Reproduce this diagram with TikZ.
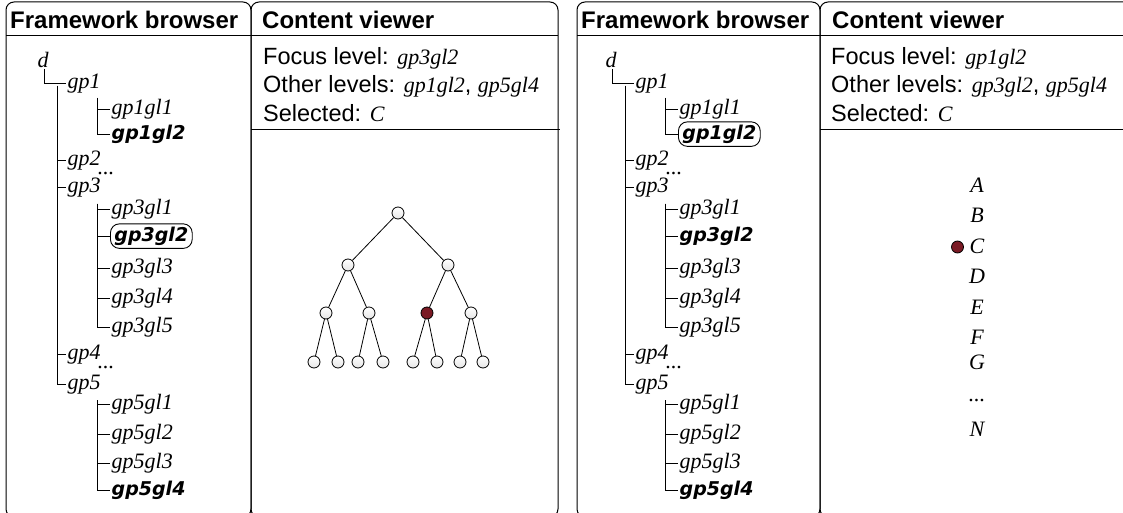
\documentclass[tikz,border=0pt]{standalone}
\usepackage{fontspec}
\setmainfont{Liberation Serif}
\setsansfont{Liberation Sans}
\newfontfamily\djv{DejaVu Sans}
\definecolor{selred}{RGB}{122,26,36}
\newcommand\vi[1]{{\rmfamily\itshape\fontsize{22bp}{26bp}\selectfont #1}}
\tikzset{
 frame/.style={draw, line width=1bp, rounded corners=8bp},
 sepline/.style={draw, line width=1bp},
 hdr/.style={anchor=base west, font=\sffamily\bfseries\fontsize{24bp}{28bp}\selectfont, inner sep=0},
 info/.style={anchor=base west, font=\sffamily\fontsize{23.5bp}{27bp}\selectfont, inner sep=0},
 it/.style={anchor=mid west, font=\itshape\fontsize{22bp}{26bp}\selectfont, inner xsep=1.5bp, inner ysep=2bp},
 bld/.style={anchor=mid west, font=\djv\bfseries\itshape\fontsize{19bp}{23bp}\selectfont, inner xsep=1.5bp, inner ysep=2bp},
 boxed/.style={draw, rounded corners=9bp, line width=0.9bp, inner xsep=4bp, inner ysep=3bp},
 branch/.style={line width=0.9bp},
 lbl/.style={anchor=base, font=\itshape\fontsize{22bp}{26bp}\selectfont, inner sep=0},
 tn/.style={circle, draw, line width=0.8bp, minimum size=12bp, inner sep=0, top color=white, bottom color=black!10},
 tsel/.style={circle, draw, line width=0.8bp, minimum size=12bp, inner sep=0, fill=selred},
 edge/.style={line width=0.8bp},
}
\newcommand\fwtree[3]{%
 \node[lbl] (#1d) at (43,68) {d};
 \node[it] (#1gp1) at (66,86) {gp1};
 \node[it] (#1gp2) at (66,163) {gp2};
 \node[lbl] (#1dots1) at (106,175) {...};
 \node[it] (#1gp3) at (66,190) {gp3};
 \node[it] (#1gp4) at (66,357) {gp4};
 \node[lbl] (#1dots2) at (106,369) {...};
 \node[it] (#1gp5) at (66,387) {gp5};
 \node[it] (#1a1) at (110,112) {gp1gl1};
 \node[#2] (#1a2) at (110,137) {gp1gl2};
 \node[it] (#1b1) at (110,212) {gp3gl1};
 \node[#3] (#1b2) at (110,239) {gp3gl2};
 \node[it] (#1b3) at (110,271) {gp3gl3};
 \node[it] (#1b4) at (110,301) {gp3gl4};
 \node[it] (#1b5) at (110,330) {gp3gl5};
 \node[it] (#1c1) at (110,407) {gp5gl1};
 \node[it] (#1c2) at (110,437) {gp5gl2};
 \node[it] (#1c3) at (110,466) {gp5gl3};
 \node[bld] (#1c4) at (110,493) {gp5gl4};
 \coordinate (#1v0) at (44,69);
 \coordinate (#1v1) at (57,86);
 \coordinate (#1va) at (97,98);
 \coordinate (#1vb) at (97,204);
 \coordinate (#1vc) at (97,400);
 \draw[branch] (#1v0) |- (#1gp1.west);
 \foreach \n in {gp2,gp3,gp4,gp5} {\draw[branch] (#1v1) |- (#1\n.west);}
 \foreach \n in {a1,a2} {\draw[branch] (#1va) |- (#1\n.west);}
 \foreach \n in {b1,b2,b3,b4,b5} {\draw[branch] (#1vb) |- (#1\n.west);}
 \foreach \n in {c1,c2,c3,c4} {\draw[branch] (#1vc) |- (#1\n.west);}
}
\begin{document}
\begin{tikzpicture}[x=1bp,y=-1bp]
\useasboundingbox (0,0) rectangle (1123,513);
\clip (0,0) rectangle (1123,513);
\fill[white] (0,0) rectangle (1123,513);
% frames
\path[frame] (6,2) rectangle (251,517);
\path[frame] (251,2) rectangle (558,517);
\path[frame] (577,2) rectangle (820,517);
\path[frame] (820,2) rectangle (1140,517);
\path[sepline] (6,36) -- (251,36);
\path[sepline] (251,36) -- (558,36);
\path[sepline] (251,130) -- (560,130);
\path[sepline] (577,36) -- (820,36);
\path[sepline] (820,36) -- (1123,36);
\path[sepline] (820,130) -- (1123,130);
% headers
\node[hdr] (h1) at (10,28.5) {Framework browser};
\node[hdr] (h2) at (262,28.5) {Content viewer};
\node[hdr] (h3) at (581,28.5) {Framework browser};
\node[hdr] (h4) at (832,28.5) {Content viewer};
% info left
\node[info] (i1) at (263,65) {Focus level: \vi{gp3gl2}};
\node[info] (i2) at (263,93) {Other levels: \vi{gp1gl2}, \vi{gp5gl4}};
\node[info] (i3) at (263,122) {Selected: \vi{C}};
% info right
\node[info] (j1) at (831,65) {Focus level: \vi{gp1gl2}};
\node[info] (j2) at (831,93) {Other levels: \vi{gp3gl2}, \vi{gp5gl4}};
\node[info] (j3) at (831,122) {Selected: \vi{C}};
% framework trees
\fwtree{L}{bld}{bld,boxed}
\begin{scope}[xshift=568bp]
\fwtree{R}{bld,boxed}{bld}
\end{scope}
% binary tree in left content viewer
\node[tn] (t1) at (398,213) {};
\node[tn] (t2) at (348,265) {};
\node[tn] (t3) at (448,265) {};
\node[tn] (t4) at (326,313) {};
\node[tn] (t5) at (369,313) {};
\node[tsel] (t6) at (427,313) {};
\node[tn] (t7) at (471,313) {};
\node[tn] (t8) at (314,362) {};
\node[tn] (t9) at (338,362) {};
\node[tn] (t10) at (358,362) {};
\node[tn] (t11) at (383,362) {};
\node[tn] (t12) at (413,362) {};
\node[tn] (t13) at (437,362) {};
\node[tn] (t14) at (460,362) {};
\node[tn] (t15) at (483,362) {};
\draw[edge] (t1) -- (t2); \draw[edge] (t1) -- (t3);
\draw[edge] (t2) -- (t4); \draw[edge] (t2) -- (t5);
\draw[edge] (t3) -- (t6); \draw[edge] (t3) -- (t7);
\draw[edge] (t4) -- (t8); \draw[edge] (t4) -- (t9);
\draw[edge] (t5) -- (t10); \draw[edge] (t5) -- (t11);
\draw[edge] (t6) -- (t12); \draw[edge] (t6) -- (t13);
\draw[edge] (t7) -- (t14); \draw[edge] (t7) -- (t15);
% list in right content viewer
\node[lbl] (la) at (977,193) {A};
\node[lbl] (lb) at (977,223) {B};
\node[lbl] (lc) at (977,254) {C};
\node[lbl] (ld) at (977,284) {D};
\node[lbl] (le) at (977,315) {E};
\node[lbl] (lf) at (977,345) {F};
\node[lbl] (lg) at (977,370) {G};
\node[lbl] (ldots) at (977,401) {...};
\node[lbl] (ln) at (977,436) {N};
\node[tsel] (seldot) at (957.5,247) {};
\end{tikzpicture}
\end{document}
